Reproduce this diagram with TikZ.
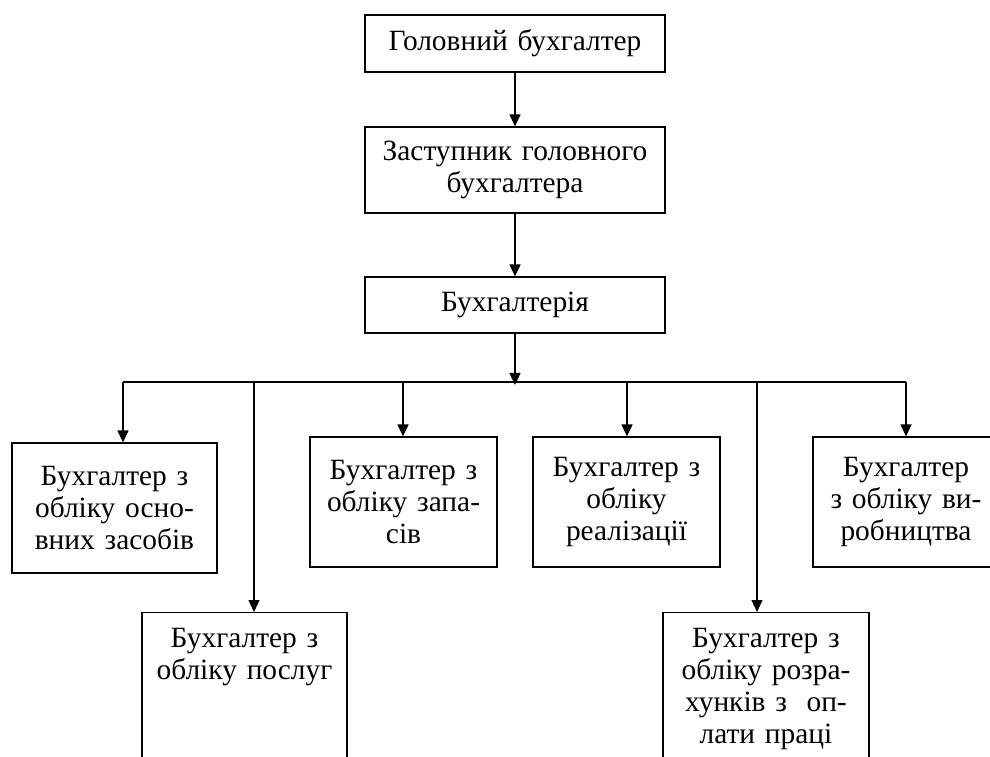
\documentclass[tikz,border=0pt]{standalone}
\usepackage{fontspec}
\setmainfont{Liberation Serif}
\usepackage{tikz}
\usetikzlibrary{arrows.meta, positioning}
\tikzset{orgbox/.style={draw=black, line width=0.6pt, align=center, inner xsep=0pt, inner ysep=2pt, font=\fontsize{14.7}{16}\selectfont},
orgarrow/.style={line width=0.6pt, -{Triangle[length=6pt, width=5.5pt]}}}

\begin{document}
\begin{tikzpicture}[
        tallorgbox/.style={orgbox, anchor=north, inner ysep=8pt, text depth=90pt}
    ]
        \useasboundingbox (0pt, 0pt) rectangle (495pt, 378pt);
        % Top of the chart
        \node[orgbox, text width=150pt, minimum height=28.5pt] (head) at (257.5pt, 356.25pt) {Головний бухгалтер};
        \node[orgbox, text width=150pt, minimum height=43pt] (deputy) at (257.5pt, 293pt) {Заступник головного\\бухгалтера};
        \node[orgbox, text width=150pt, minimum height=28pt] (dept) at (257.5pt, 225.5pt) {Бухгалтерія};
        % Accountants
        \node[orgbox, text width=102.5pt, minimum height=65pt] (osn) at (57.25pt, 124pt) {Бухгалтер з\\обліку осно-\\вних засобів};
        \node[tallorgbox, text width=102.5pt] (posl) at (122.25pt, 72pt) {Бухгалтер з\\обліку послуг};
        \node[orgbox, text width=93.5pt, minimum height=65pt] (zap) at (201.75pt, 127pt) {Бухгалтер з\\обліку запа-\\сів};
        \node[orgbox, text width=93.5pt, minimum height=65pt] (real) at (313.25pt, 127pt) {Бухгалтер з\\обліку\\реалізації};
        \node[tallorgbox, text width=103pt] (rozr) at (383pt, 72pt) {Бухгалтер з\\обліку розра-\\хунків з \ оп-\\лати праці};
        \node[orgbox, text width=93pt, minimum height=65pt] (vyr) at (453pt, 127pt) {Бухгалтер\\з обліку ви-\\робництва};
        % Arrows
        \draw[orgarrow] (head) -- (deputy);
        \draw[orgarrow] (deputy) -- (dept);
        \foreach \nm/\x in {osn/61.5, posl/127, zap/201.5, real/313.5, rozr/378.5, vyr/453} {
            \coordinate (br\nm) at (\x pt, 187pt);
            \draw[orgarrow] (br\nm) -- (br\nm |- \nm.north);
        }
        \draw[line width=0.6pt] (brosn) -- (brvyr);
        \draw[orgarrow] (dept.south) -- ([yshift=-1.5pt]dept.south |- brosn);
    \end{tikzpicture}
\end{document}
